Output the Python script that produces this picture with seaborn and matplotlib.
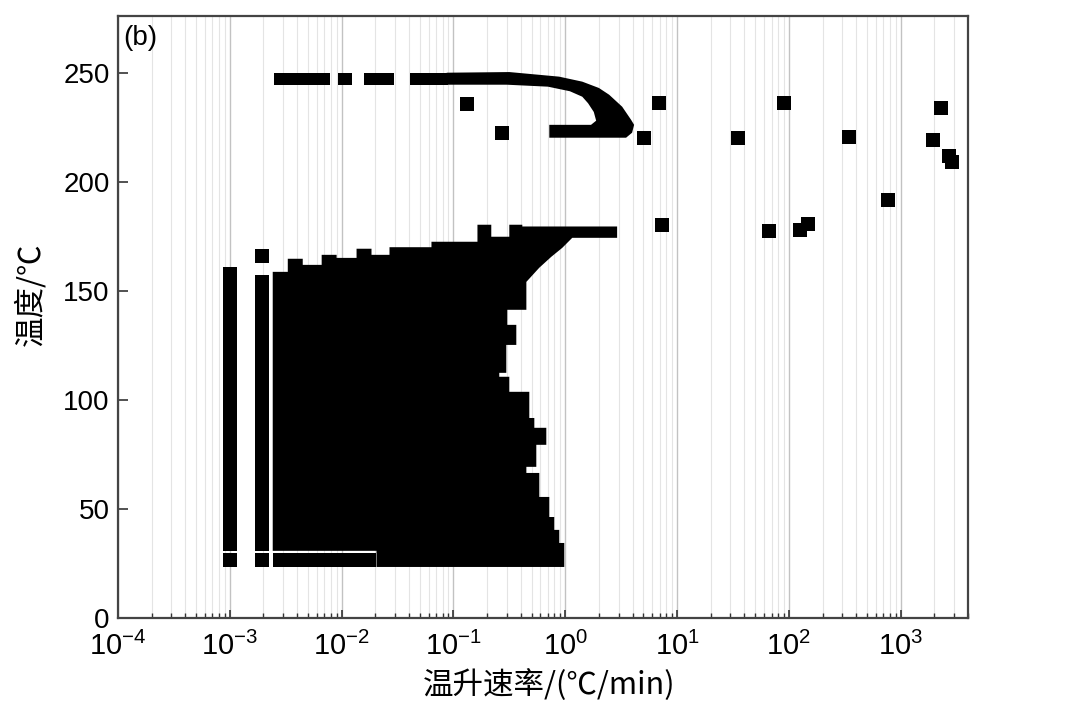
import numpy as np
import matplotlib
matplotlib.use("Agg")
import matplotlib.pyplot as plt
import seaborn as sns
import pandas as pd
from matplotlib import font_manager
from matplotlib.ticker import LogLocator, NullFormatter, FixedLocator, FixedFormatter

# ---------------- data ----------------
# isolated points: heating rate (℃/min) and temperature (℃)
pt_rate = [1.93e-3, 0.133, 0.274, 5.07, 6.9, 7.35, 35, 66, 90, 125, 148,
           343, 765, 1930, 2275, 2700, 2850]
pt_temp = [166.0, 235.8, 222.5, 220.2, 236.2, 180.3, 220.2, 177.5, 236.2,
           178.0, 180.7, 220.6, 191.7, 219.3, 233.9, 212.0, 209.0]

# vertical point columns at the lowest rates
col_rate = [1.0e-3, 1.95e-3]
col_top = [161.0, 157.3]
col_bottom = 23.4
gap_low, gap_high = 29.8, 30.8          # thin white gap between rows

# dashed row of points at ~247 ℃
dash_start = [0.0025, 0.0092, 0.016, 0.0405]
dash_end = [0.0078, 0.0123, 0.0297, 0.09]
dash_low, dash_high = 244.5, 250.0

# outline of the upper "C" shaped band
band_rate = [0.087, 0.316, 0.88, 1.42, 2.0, 2.47, 3.23, 3.88, 4.13, 3.96, 3.5, 0.72,
             0.72, 1.7, 1.89, 1.8, 1.6, 1.42, 1.1, 0.7, 0.30, 0.087]
band_temp = [250.0, 250.3, 248.2, 245.9, 243.0, 239.9, 234.4, 228.4, 226.1, 222.5, 220.2, 220.2,
             226.1, 226.1, 228.0, 232.0, 236.0, 239.0, 241.5, 243.6, 244.5, 244.5]

# outline of the large lower region
blob_rate = [0.00242, 0.00242, 0.00330, 0.00330, 0.00449, 0.00449, 0.00663, 0.00663,
             0.00902, 0.00902, 0.0136, 0.0136, 0.0185, 0.0185, 0.0268, 0.0268,
             0.0636, 0.0636, 0.164, 0.164, 0.218, 0.218, 0.316, 0.316, 0.413, 0.413,
             2.91, 2.91, 1.155, 0.94, 0.75, 0.586, 0.449,
             0.449, 0.303, 0.303, 0.365, 0.365, 0.297, 0.297, 0.257, 0.257, 0.316, 0.316,
             0.477, 0.477, 0.529, 0.529, 0.677, 0.677, 0.551, 0.551, 0.449, 0.449,
             0.586, 0.586, 0.72, 0.72, 0.797, 0.797, 0.884, 0.884, 0.98, 0.98,
             0.0205, 0.0205]
blob_temp = [30.8, 158.7, 158.7, 164.7, 164.7, 161.9, 161.9, 166.5,
             166.5, 165.1, 165.1, 169.3, 169.3, 166.5, 166.5, 170.0,
             170.0, 172.5, 172.5, 180.3, 180.3, 174.8, 174.8, 180.3, 180.3, 179.5,
             179.5, 174.3, 174.3, 169.7, 165.6, 160.6, 154.1,
             141.3, 141.3, 134.4, 134.4, 125.2, 125.2, 112.4, 112.4, 110.6, 110.6, 103.7,
             103.7, 91.7, 91.7, 87.2, 87.2, 79.4, 79.4, 69.3, 69.3, 66.5,
             66.5, 55.5, 55.5, 46.3, 46.3, 40.4, 40.4, 34.4, 34.4, 23.4,
             23.4, 30.8]
# bottom row below the white gap
row_start, row_end = 0.00242, 0.0205

xticks = [1e-4, 1e-3, 1e-2, 1e-1, 1e0, 1e1, 1e2, 1e3]
xtick_labels = [r'$10^{-4}$', r'$10^{-3}$', r'$10^{-2}$', r'$10^{-1}$',
                r'$10^{0}$', r'$10^{1}$', r'$10^{2}$', r'$10^{3}$']
yticks = [0, 50, 100, 150, 200, 250]

# ---------------- style ----------------
sns.set_theme(style="white")
avail = {f.name for f in font_manager.fontManager.ttflist}
tick_font = "Liberation Sans Narrow" if "Liberation Sans Narrow" in avail else "Liberation Sans"
plt.rcParams['font.family'] = ['Liberation Sans', 'Noto Sans CJK SC', 'DejaVu Sans']
plt.rcParams['mathtext.fontset'] = 'custom'
plt.rcParams['mathtext.rm'] = tick_font
plt.rcParams['mathtext.it'] = tick_font
plt.rcParams['mathtext.bf'] = tick_font
plt.rcParams['text.color'] = 'black'
plt.rcParams['axes.labelcolor'] = 'black'
plt.rcParams['xtick.labelcolor'] = 'black'
plt.rcParams['ytick.labelcolor'] = 'black'

SQ = 10 ** 0.0625   # half marker width as a factor on the log axis

fig = plt.figure(figsize=(10.8, 7.04), dpi=100)
ax = fig.add_axes([118 / 1080, 1 - 618 / 704, 850 / 1080, 602 / 704])

# large region and band
ax.fill(blob_rate, blob_temp, color='black', lw=0, zorder=3)
ax.fill_between([row_start, row_end], col_bottom, gap_low, color='black', lw=0, zorder=3)
ax.fill(band_rate, band_temp, color='black', lw=0, zorder=3)
for s, e in zip(dash_start, dash_end):
    ax.fill_between([s, e], dash_low, dash_high, color='black', lw=0, zorder=3)
for r, t in zip(col_rate, col_top):
    ax.fill_between([r / SQ, r * SQ], gap_high, t, color='black', lw=0, zorder=3)
    ax.fill_between([r / SQ, r * SQ], col_bottom, gap_low, color='black', lw=0, zorder=3)

df = pd.DataFrame({'rate': pt_rate, 'temp': pt_temp})
sns.scatterplot(data=df, x='rate', y='temp', marker='s', color='black', s=110,
                linewidth=0, ax=ax, zorder=4)

ax.set_xscale('log')
ax.set_xlim(1e-4, 4e3)
ax.set_ylim(0, 276)
ax.xaxis.set_major_locator(FixedLocator(xticks))
ax.xaxis.set_major_formatter(FixedFormatter(xtick_labels))
ax.xaxis.set_minor_locator(LogLocator(base=10, subs=np.arange(2, 10), numticks=100))
ax.xaxis.set_minor_formatter(NullFormatter())
ax.set_yticks(yticks)

ax.grid(which='major', axis='x', color='#c2c2c2', lw=1.0)
ax.grid(which='minor', axis='x', color='#e4e4e4', lw=0.8)
ax.grid(False, axis='y')
ax.set_axisbelow(True)

ax.tick_params(axis='x', which='major', direction='in', length=6, width=1.2,
               bottom=True, top=False, labelsize=21, pad=10, color='#333333')
ax.tick_params(axis='x', which='minor', direction='in', length=3.5, width=1,
               bottom=True, top=False, color='#333333')
ax.tick_params(axis='y', which='major', direction='in', length=7, width=1.2,
               left=True, right=False, labelsize=20, pad=6, color='#333333')
for lab in ax.get_yticklabels():
    lab.set_fontfamily('Liberation Sans')

for sp in ax.spines.values():
    sp.set_color('#444444')
    sp.set_linewidth(1.6)

ax.set_xlabel('温升速率/(℃/min)', fontsize=22, family=['Noto Sans CJK SC', 'DejaVu Sans'],
              va='center', color='black')
ax.set_ylabel('温度/℃', fontsize=22, family=['Noto Sans CJK SC', 'DejaVu Sans'],
              va='center', color='black')
ax.xaxis.set_label_coords(0.507, -0.111)
ax.yaxis.set_label_coords(-0.1035, 0.537)

ax.text(0.006, 0.985, '(b)', transform=ax.transAxes, ha='left', va='top',
        fontsize=20, family='Liberation Sans', color='black', zorder=5)

fig.savefig('out.png', dpi=100)
